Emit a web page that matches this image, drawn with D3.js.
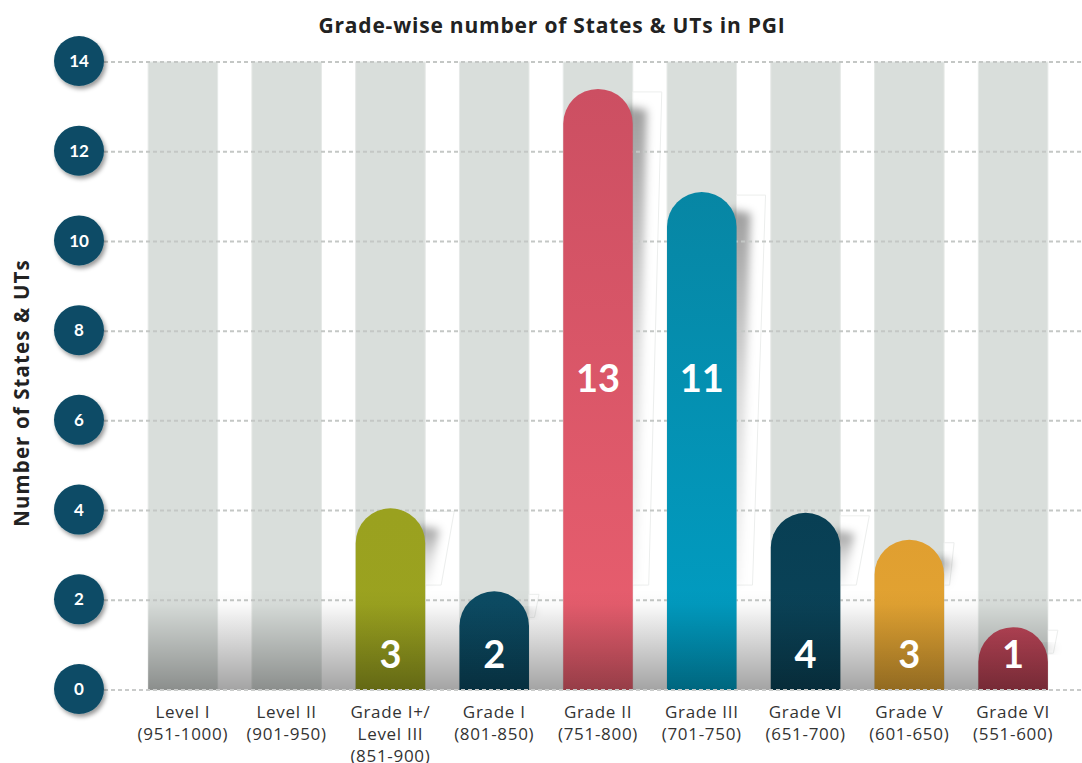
<!DOCTYPE html>
<html>
<head>
<meta charset="utf-8">
<script src="https://cdn.jsdelivr.net/npm/d3@7"></script>
<style>
  body { margin: 0; background: #fff; }
  svg { display: block; font-family: "Open Sans", Lato, sans-serif; }
</style>
</head>
<body>
<svg id="chart" width="1082" height="763"></svg>
<script>
"use strict"
// data
var gradeNames = [["Level I"], ["Level II"], ["Grade I+/", "Level III"], ["Grade I"], ["Grade II"],
                  ["Grade III"], ["Grade VI"], ["Grade V"], ["Grade VI"]];
var scoreRanges = ["(951-1000)", "(901-950)", "(851-900)", "(801-850)", "(751-800)",
                   "(701-750)", "(651-700)", "(601-650)", "(551-600)"];
var counts = [0, 0, 3, 2, 13, 11, 4, 3, 1];
// the infographic draws its bars a bit off the counts: these are the drawn heights
var drawnHeights = [0, 0, 4.05, 2.2, 13.4, 11.1, 3.95, 3.35, 1.4];
var yTicks = [0, 2, 4, 6, 8, 10, 12, 14];
var barTopColors = [null, null, "#9aa11f", "#0c4b63", "#cc4f62", "#0786a4", "#083f54", "#e09f30", "#c0475a"];
var barBottomColors = [null, null, "#9ba320", "#0b4a62", "#ea5f6f", "#009fc5", "#0b4459", "#e3a634", "#b84254"];

var svg = d3.select("svg#chart"),
    width = +svg.attr("width"),
    height = +svg.attr("height");

var x = d3.scaleBand()
    .domain(d3.range(counts.length))
    .range([131, 1065])
    .paddingInner(0.33)
    .paddingOuter(0.165);

var y = d3.scaleLinear()
    .domain([0, 14])
    .range([690, 62]);

var floorTop = y(2.25);

var defs = svg.append("defs");

var ds = defs.append("filter").attr("id", "dropShadow")
    .attr("x", "-30%").attr("y", "-30%").attr("width", "170%").attr("height", "170%");
ds.append("feDropShadow")
    .attr("dx", 2).attr("dy", 3).attr("stdDeviation", 2)
    .attr("flood-color", "#000").attr("flood-opacity", 0.4);

defs.append("filter").attr("id", "blur")
    .attr("x", "-50%").attr("y", "-20%").attr("width", "200%").attr("height", "140%")
    .append("feGaussianBlur").attr("stdDeviation", 4);

var sg = defs.append("linearGradient").attr("id", "sideShadow")
    .attr("x1", 0).attr("x2", 0).attr("y1", 0).attr("y2", 1);
sg.append("stop").attr("offset", 0).attr("stop-color", "#000").attr("stop-opacity", 0.38);
sg.append("stop").attr("offset", 0.5).attr("stop-color", "#000").attr("stop-opacity", 0.14);
sg.append("stop").attr("offset", 1).attr("stop-color", "#000").attr("stop-opacity", 0.04);

var fg = defs.append("linearGradient").attr("id", "floor")
    .attr("x1", 0).attr("x2", 0).attr("y1", 0).attr("y2", 1);
fg.append("stop").attr("offset", 0).attr("stop-color", "#000").attr("stop-opacity", 0);
fg.append("stop").attr("offset", 0.15).attr("stop-color", "#000").attr("stop-opacity", 0.02);
fg.append("stop").attr("offset", 1).attr("stop-color", "#000").attr("stop-opacity", 0.36);

counts.forEach(function(c, i) {
  if (!barTopColors[i]) return;
  var g = defs.append("linearGradient").attr("id", "bar" + i)
      .attr("gradientUnits", "userSpaceOnUse")
      .attr("x1", 0).attr("x2", 0).attr("y1", y(drawnHeights[i])).attr("y2", y(0));
  g.append("stop").attr("offset", 0).attr("stop-color", barTopColors[i]);
  g.append("stop").attr("offset", 1).attr("stop-color", barBottomColors[i]);
});

// title
svg.append("text")
    .attr("x", 552).attr("y", 33)
    .attr("text-anchor", "middle")
    .style("font-size", "21px").style("font-weight", "700").style("fill", "#222")
    .style("letter-spacing", "0.8px")
    .text("Grade-wise number of States & UTs in PGI");

svg.append("text")
    .attr("transform", "translate(29,393) rotate(-90)")
    .attr("text-anchor", "middle")
    .style("font-size", "20.5px").style("font-weight", "700").style("fill", "#222")
    .style("letter-spacing", "1.1px")
    .text("Number of States & UTs");

// grey background columns
svg.append("g").attr("class", "columns")
  .selectAll("rect")
    .data(counts)
  .enter().append("rect")
    .attr("x", function(d, i) { return x(i); })
    .attr("y", y(14))
    .attr("width", x.bandwidth())
    .attr("height", y(0) - y(14))
    .style("fill", "#d9dedb")
    .style("stroke", "#e6e9e7")
    .style("stroke-width", 1);

var bars = counts.map(function(c, i) { return i; }).filter(function(i) { return counts[i] > 0; });

function panelBottom(i) {
  var top = y(drawnHeights[i]);
  return Math.max(floorTop - 4, top + 26);
}

// white perspective panels behind the bars
svg.append("g").attr("class", "panels")
  .selectAll("path")
    .data(bars)
  .enter().append("path")
    .attr("d", function(i) {
      var x1 = x(i) + x.bandwidth(), top = y(drawnHeights[i]), bottom = panelBottom(i);
      var w = bottom - top < 60 ? 10 : 29;
      return "M" + x1 + "," + (top + 3) + "L" + (x1 + w) + "," + (top + 3) +
             "L" + (x1 + w * 0.55) + "," + bottom + "L" + x1 + "," + bottom + "Z";
    })
    .style("fill", "#fff")
    .style("stroke", "#eceeed")
    .style("stroke-width", 1);

// soft shadow hugging the right edge of each bar
svg.append("g").attr("class", "shadows")
  .selectAll("path")
    .data(bars)
  .enter().append("path")
    .attr("d", function(i) {
      var x1 = x(i) + x.bandwidth(), top = y(drawnHeights[i]), bottom = panelBottom(i);
      var r = x.bandwidth() / 2;
      var w = bottom - top < 60 ? 8 : 14;
      return "M" + (x1 - 8) + "," + (top + r * 0.5) + "L" + (x1 + w) + "," + (top + r * 0.6) +
             "L" + (x1 + 4) + "," + bottom + "L" + (x1 - 8) + "," + bottom + "Z";
    })
    .style("fill", "url(#sideShadow)")
    .attr("filter", "url(#blur)");

// dotted grid
svg.append("g").attr("class", "grid")
  .selectAll("line")
    .data(yTicks)
  .enter().append("line")
    .attr("x1", 104).attr("x2", width)
    .attr("y1", function(d) { return y(d); })
    .attr("y2", function(d) { return y(d); })
    .style("stroke", "#c4c7c5")
    .style("stroke-width", 2)
    .style("stroke-dasharray", "4,3");

function roundTop(x0, yTop, w, yBottom) {
  var r = w / 2;
  return "M" + x0 + "," + yBottom + "L" + x0 + "," + (yTop + r) +
         "A" + r + "," + r + " 0 0 1 " + (x0 + w) + "," + (yTop + r) +
         "L" + (x0 + w) + "," + yBottom + "Z";
}

svg.append("g").attr("class", "bars")
  .selectAll("path")
    .data(bars)
  .enter().append("path")
    .attr("d", function(i) { return roundTop(x(i), y(drawnHeights[i]), x.bandwidth(), y(0)); })
    .style("fill", function(i) { return "url(#bar" + i + ")"; });

// darker floor near the baseline
svg.append("rect")
    .attr("x", x(0)).attr("y", floorTop)
    .attr("width", x(counts.length - 1) + x.bandwidth() - x(0))
    .attr("height", y(0) - floorTop)
    .style("fill", "url(#floor)");

svg.append("line")
    .attr("x1", 104).attr("x2", width)
    .attr("y1", y(0)).attr("y2", y(0))
    .style("stroke", "#c9cbca").style("stroke-width", 2).style("stroke-dasharray", "4,3");

svg.append("g").attr("class", "values")
  .selectAll("text")
    .data(bars)
  .enter().append("text")
    .attr("x", function(i) { return x(i) + x.bandwidth() / 2; })
    .attr("y", function(i) { return y(counts[i] > 5 ? 6.65 : 0.5); })
    .attr("text-anchor", "middle")
    .style("font-family", "Lato, sans-serif")
    .style("font-size", "38px").style("font-weight", "700").style("fill", "#fff")
    .text(function(i) { return counts[i]; });

// y axis bubbles
var ticks = svg.append("g").attr("class", "yticks")
  .selectAll("g")
    .data(yTicks)
  .enter().append("g")
    .attr("transform", function(d) { return "translate(79," + (y(d) - 1) + ")"; });

ticks.append("circle")
    .attr("r", 25)
    .style("fill", "#0b4c66")
    .attr("filter", "url(#dropShadow)");

ticks.append("text")
    .attr("dy", "0.36em")
    .attr("text-anchor", "middle")
    .style("font-family", "Lato, sans-serif")
    .style("font-size", "17px").style("font-weight", "700").style("fill", "#fff")
    .text(function(d) { return d; });

// category labels
var labels = svg.append("g").attr("class", "xlabels")
  .selectAll("text")
    .data(counts)
  .enter().append("text")
    .attr("text-anchor", "middle")
    .attr("transform", function(d, i) { return "translate(" + (x(i) + x.bandwidth() / 2) + ",718)"; })
    .style("font-size", "17px").style("letter-spacing", "0.7px").style("fill", "#333");

labels.each(function(d, i) {
  var t = d3.select(this);
  gradeNames[i].concat([scoreRanges[i]]).forEach(function(line, k) {
    t.append("tspan").attr("x", 0).attr("y", k * 22).text(line);
  });
});
</script>
</body>
</html>
